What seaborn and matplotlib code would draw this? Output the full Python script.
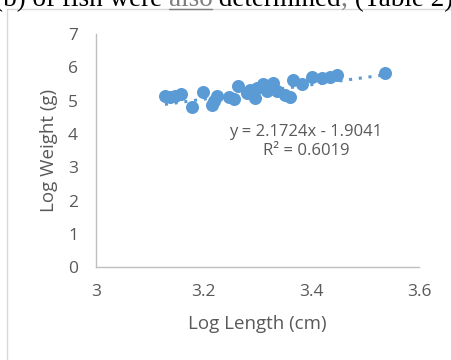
import matplotlib
matplotlib.use("Agg")
import matplotlib.pyplot as plt
import matplotlib.patches as patches
import seaborn as sns
import numpy as np
import pandas as pd

# values
log_length = [3.128, 3.137, 3.147, 3.158, 3.178, 3.199, 3.215, 3.219, 3.225, 3.247,
              3.256, 3.264, 3.281, 3.286, 3.295, 3.299, 3.310, 3.318, 3.329, 3.336,
              3.351, 3.360, 3.366, 3.383, 3.401, 3.420, 3.435, 3.448, 3.537]
log_weight = [5.13, 5.10, 5.13, 5.19, 4.80, 5.25, 4.86, 4.98, 5.13, 5.10,
              5.04, 5.43, 5.22, 5.31, 5.07, 5.37, 5.49, 5.28, 5.52, 5.28,
              5.16, 5.10, 5.61, 5.49, 5.70, 5.67, 5.70, 5.76, 5.82]
slope = 2.1724
intercept = -1.9041
r_squared = 0.6019
x_ticks = [3, 3.2, 3.4, 3.6]
y_ticks = [0, 1, 2, 3, 4, 5, 6, 7]

df = pd.DataFrame({"len": log_length, "wt": log_weight})

sns.set_style("white")
plt.rcParams["font.family"] = ["Open Sans", "DejaVu Sans"]

blue = "#5B9BD5"
grey_text = "#595959"

fig = plt.figure(figsize=(4.51, 3.6), dpi=100)
ax = fig.add_axes([0.213, 0.258, 0.716, 0.647])

# chart frame from the document
fig.patches.append(patches.Rectangle((7 / 451, -0.1), 1.2, 1 - 9 / 360 + 0.1,
                                     transform=fig.transFigure, fill=False,
                                     edgecolor="#D9D9D9", linewidth=1))

sns.scatterplot(x="len", y="wt", data=df, ax=ax, color=blue, s=88,
                edgecolor=blue, linewidth=0, zorder=3)

xs = np.linspace(min(log_length), max(log_length), 50)
ax.plot(xs, slope * xs + intercept, color=blue, linestyle=(0, (1, 2.2)),
        linewidth=2.2, zorder=2)

ax.text(3.39, 4.06, "y = 2.1724x - 1.9041", ha="center", va="center",
        fontsize=12, color=grey_text)
ax.text(3.39, 3.49, "R² = %.4f" % r_squared, ha="center", va="center",
        fontsize=12, color=grey_text)

ax.set_xlim(3, 3.6)
ax.set_ylim(0, 7)
ax.set_xticks(x_ticks)
ax.set_xticklabels(["3", "3.2", "3.4", "3.6"])
ax.set_yticks(y_ticks)
ax.tick_params(length=0, labelsize=12.5, labelcolor=grey_text)
ax.tick_params(axis="x", pad=12)
ax.tick_params(axis="y", pad=13)
ax.set_xlabel("Log Length (cm)", fontsize=13.5, color=grey_text, labelpad=11)
ax.set_ylabel("Log Weight (g)", fontsize=13.5, color=grey_text, labelpad=7)

for side in ["top", "right"]:
    ax.spines[side].set_visible(False)
for side in ["left", "bottom"]:
    ax.spines[side].set_color("#BFBFBF")
    ax.spines[side].set_linewidth(1)

# cut-off line of document text above the chart
parts = [("(b) of fish were ", "black", False), ("also", "#7F7F7F", True),
         (" determined", "black", False), (",", "#7F7F7F", False),
         (" (Table 2)", "black", False)]
fig.canvas.draw()
renderer = fig.canvas.get_renderer()
x_px = 453
y_px = 360 - 6
for txt, col, under in reversed(parts):
    t = fig.text(x_px / 451, y_px / 360, txt, ha="right", va="baseline",
                 fontsize=19.5, color=col, family="Liberation Serif")
    bb = t.get_window_extent(renderer)
    if under:
        fig.add_artist(plt.Line2D([bb.x0 / 451, bb.x1 / 451],
                                  [(y_px - 3) / 360, (y_px - 3) / 360],
                                  transform=fig.transFigure, color=col,
                                  linewidth=1))
    x_px = bb.x0

fig.savefig("out.png", dpi=100)
plt.close()
